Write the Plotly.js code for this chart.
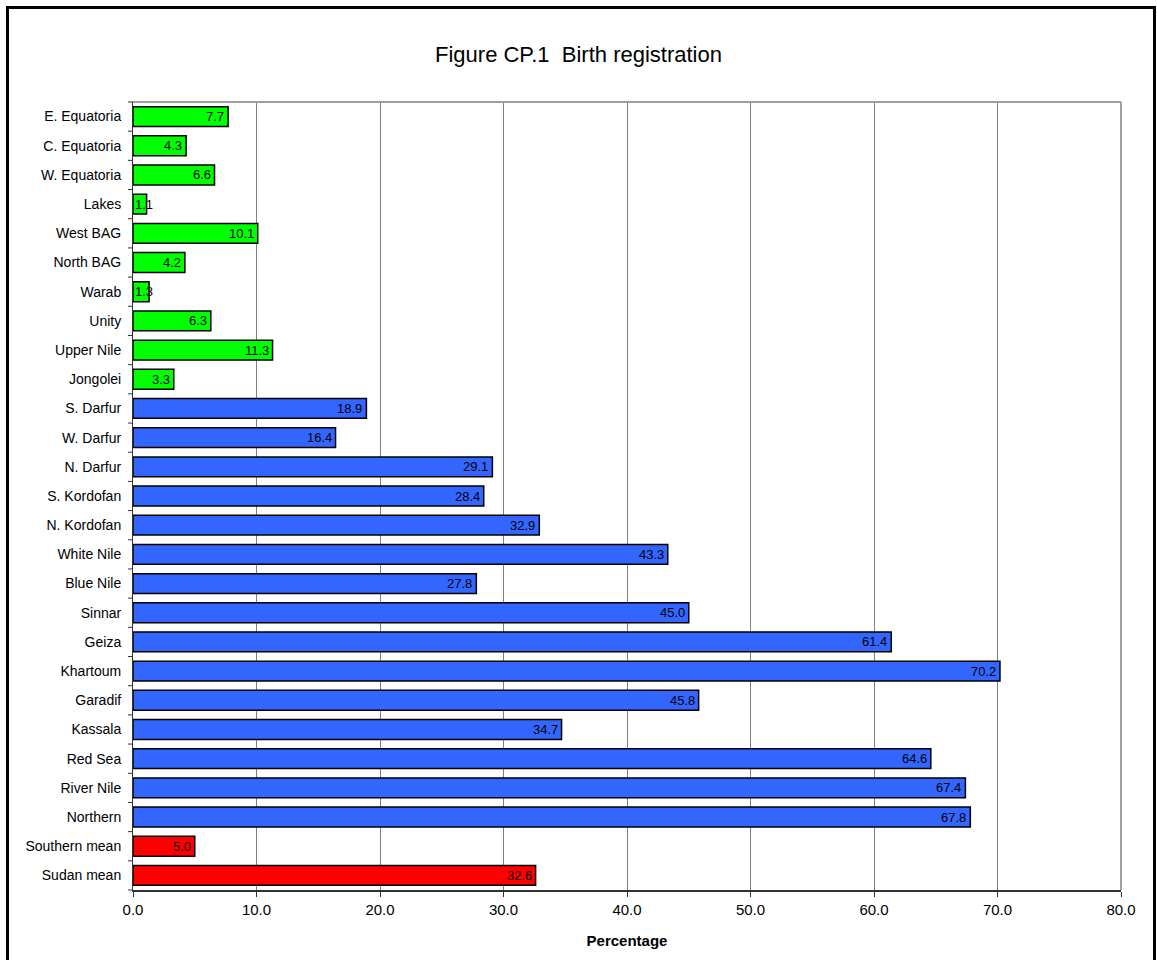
<!DOCTYPE html>
<html>
<head>
<meta charset="utf-8">
<script src="https://cdn.plot.ly/plotly-3.0.1.min.js"></script>
<style>
  html, body { margin: 0; padding: 0; background: #fff; }
  #chart { position: absolute; left: 0; top: 0; width: 1157px; height: 960px; }
  #frame { position: absolute; left: 6px; top: 6px; width: 1150px; height: 980px;
           border: 3px solid #000; box-sizing: border-box; pointer-events: none; }
</style>
</head>
<body>
<div id="chart"></div>
<div id="frame"></div>
<script>
// Data (top to bottom as in the reference)
const regions = ["E. Equatoria", "C. Equatoria", "W. Equatoria", "Lakes", "West BAG",
  "North BAG", "Warab", "Unity", "Upper Nile", "Jongolei",
  "S. Darfur", "W. Darfur", "N. Darfur", "S. Kordofan", "N. Kordofan",
  "White Nile", "Blue Nile", "Sinnar", "Geiza", "Khartoum",
  "Garadif", "Kassala", "Red Sea", "River Nile", "Northern",
  "Southern mean", "Sudan mean"];
const values = [7.7, 4.3, 6.6, 1.1, 10.1, 4.2, 1.3, 6.3, 11.3, 3.3,
  18.9, 16.4, 29.1, 28.4, 32.9, 43.3, 27.8, 45.0, 61.4, 70.2,
  45.8, 34.7, 64.6, 67.4, 67.8, 5.0, 32.6];
const groups = ["south","south","south","south","south","south","south","south","south","south",
  "north","north","north","north","north","north","north","north","north","north",
  "north","north","north","north","north","mean","mean"];
const groupColors = { south: "#00FF00", north: "#3366FF", mean: "#FF0000" };
const xTicks = [0, 10, 20, 30, 40, 50, 60, 70, 80];

const colors = groups.map(g => groupColors[g]);
const FONT = "Arial, 'Liberation Sans', sans-serif";

const trace = {
  type: "bar",
  orientation: "h",
  y: regions,
  x: values,
  marker: { color: colors, line: { color: "#000", width: 1.5 } },
  width: 0.68,
  hoverinfo: "x+y"
};

// data labels: inside end, or starting at the axis when the bar is too narrow
const xmax = 80, plotW = 988;
const annotations = values.map((v, i) => {
  const txt = v.toFixed(1);
  const pxW = v / xmax * plotW;
  const fits = pxW > txt.length * 7.5 + 6;
  return {
    x: fits ? v : 0, y: regions[i], xref: "x", yref: "y",
    text: txt, showarrow: false,
    xanchor: fits ? "right" : "left", xshift: fits ? -2 : 0,
    font: { family: FONT, size: 13, color: "#000" }
  };
});

const layout = {
  width: 1157, height: 960,
  margin: { l: 133, r: 36, t: 102, b: 70 },
  paper_bgcolor: "#fff", plot_bgcolor: "#fff",
  font: { family: FONT, color: "#000" },
  title: {
    text: "Figure CP.1  Birth registration",
    xref: "container", x: 0.5, xanchor: "center",
    yref: "container", y: 1 - 54 / 960, yanchor: "middle",
    font: { size: 22, color: "#000" }
  },
  xaxis: {
    range: [0, 80], tickvals: xTicks, tickformat: ".1f",
    ticks: "outside", ticklen: 5, tickcolor: "#333", tickwidth: 1,
    showline: true, linecolor: "#333", linewidth: 2,
    showgrid: true, gridcolor: "#808080", gridwidth: 1,
    zeroline: false, mirror: false,
    tickfont: { size: 15, color: "#000" },
    title: { text: "<b>Percentage</b>", font: { size: 15, color: "#000" }, standoff: 18 },
    fixedrange: true
  },
  yaxis: {
    categoryorder: "array", categoryarray: regions, autorange: "reversed",
    showline: true, linecolor: "#333", linewidth: 1,
    ticks: "", showgrid: false, zeroline: false,
    tickfont: { size: 14, color: "#000" }, ticklabelstandoff: 8,
    fixedrange: true
  },
  shapes: [
    // top and right plot-area border (grey)
    { type: "line", xref: "paper", yref: "paper", x0: 0, x1: 1, y0: 1, y1: 1, line: { color: "#a0a0a0", width: 2 } },
    { type: "line", xref: "paper", yref: "paper", x0: 1, x1: 1, y0: 0, y1: 1, line: { color: "#a0a0a0", width: 2 } }
  ].concat(
    // tick marks on the category axis between categories
    regions.concat([""]).map((_, i) => ({
      type: "line", xref: "paper", yref: "paper",
      x0: -5 / 988, x1: 0, y0: 1 - i / regions.length, y1: 1 - i / regions.length,
      line: { color: "#333", width: 1 }
    }))
  ),
  annotations: annotations,
  showlegend: false,
  bargap: 0.32
};

Plotly.newPlot("chart", [trace], layout, { displayModeBar: false, staticPlot: true });
</script>
</body>
</html>
